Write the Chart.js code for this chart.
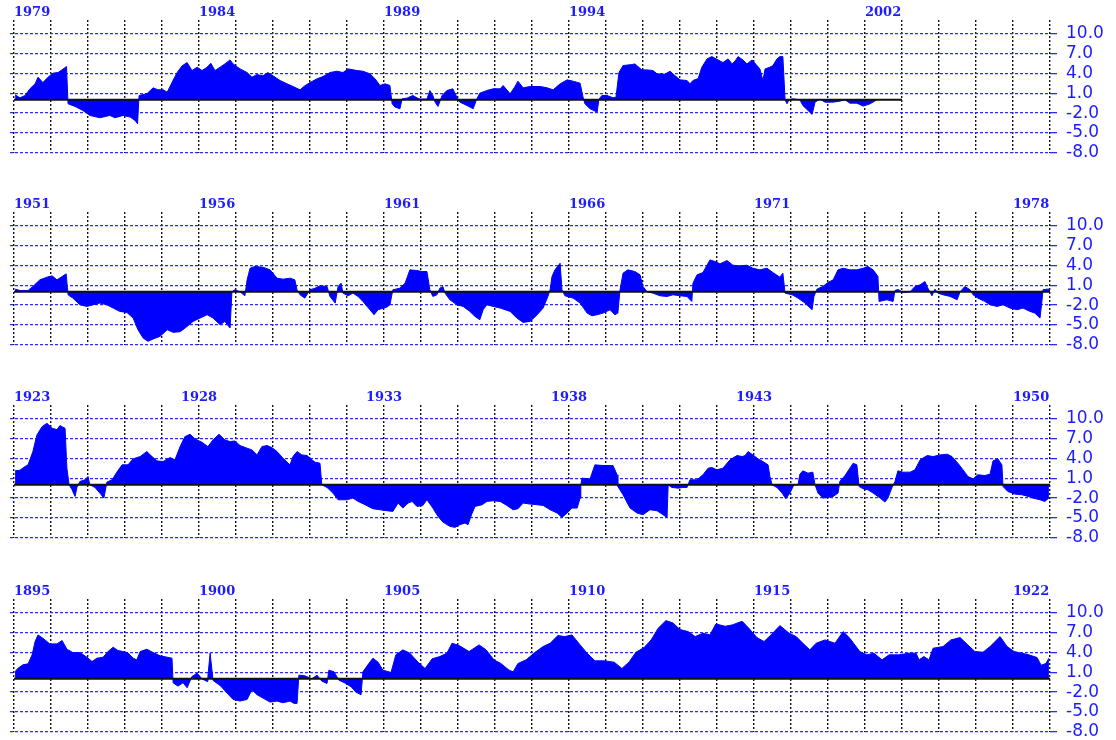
<!DOCTYPE html>
<html>
<head>
<meta charset="utf-8">
<script src="https://cdn.jsdelivr.net/npm/chart.js@4.4.1/dist/chart.umd.min.js"></script>
<style>
  body { margin: 0; background: #fff; width: 1116px; height: 740px; position: relative; overflow: hidden; }
  canvas { position: absolute; left: 0; }
</style>
</head>
<body>
<canvas id="p0" width="1116" height="159" style="top:0px"></canvas>
<canvas id="p1" width="1116" height="159" style="top:192px"></canvas>
<canvas id="p2" width="1116" height="159" style="top:385px"></canvas>
<canvas id="p3" width="1116" height="159" style="top:579px"></canvas>
<script>
// each panel covers 28 years; x values are years since the panel's first year
const panelStarts = [1979, 1951, 1923, 1895];
const labelYearsLeft = [
  [1979, 1984, 1989, 1994, 2002],
  [1951, 1956, 1961, 1966, 1971, 1978],
  [1923, 1950],
  [1895, 1900, 1905, 1910, 1915, 1922]
];
const labelYearsCentered = [[], [], [1928, 1933, 1938, 1943], []];
const baselineEnds = [24, 28, 28, 28];
const yTickValues = [-8, -5, -2, 1, 4, 7, 10];

const series1979 = [[0.03,0.75],[0.16,0.3],[0.30,0.65],[0.43,1.65],[0.57,2.4],[0.65,3.4],[0.78,2.6],[0.92,3.4],[1.05,4.0],[1.19,4.1],[1.32,4.6],[1.42,5.0],[1.46,-0.6],[1.65,-1.0],[1.86,-1.6],[2.05,-2.35],[2.32,-2.7],[2.59,-2.35],[2.73,-2.7],[2.95,-2.35],[3.14,-2.6],[3.27,-3.1],[3.34,-3.6],[3.38,0.65],[3.59,0.9],[3.76,1.8],[3.89,1.5],[4.03,1.5],[4.14,1.15],[4.27,2.6],[4.41,4.1],[4.54,5.1],[4.68,5.6],[4.81,4.4],[4.95,4.9],[5.08,4.4],[5.22,4.9],[5.32,5.5],[5.43,4.4],[5.57,4.9],[5.70,5.4],[5.84,6.0],[5.92,5.4],[6.11,4.65],[6.30,4.1],[6.43,3.4],[6.57,3.8],[6.73,3.6],[6.86,4.1],[7.00,3.6],[7.19,2.9],[7.38,2.4],[7.54,2.0],[7.73,1.5],[7.86,2.1],[8.00,2.6],[8.19,3.15],[8.35,3.5],[8.54,4.1],[8.73,4.3],[8.89,4.1],[9.03,4.65],[9.27,4.4],[9.43,4.3],[9.62,3.9],[9.76,3.15],[9.89,2.15],[10.03,2.4],[10.16,2.15],[10.22,-0.6],[10.30,-1.1],[10.43,-1.35],[10.49,0.15],[10.62,0.25],[10.78,0.65],[10.89,0.3],[10.97,0.1],[11.16,0.1],[11.24,1.4],[11.32,0.65],[11.38,-0.35],[11.46,-1.0],[11.57,0.65],[11.70,1.4],[11.86,1.65],[11.97,0.4],[12.05,-0.35],[12.24,-0.85],[12.41,-1.35],[12.51,0.15],[12.59,1.0],[12.78,1.4],[12.95,1.65],[13.14,1.65],[13.22,2.15],[13.41,0.9],[13.54,2.0],[13.62,2.8],[13.76,1.8],[13.95,2.0],[14.22,2.0],[14.41,1.8],[14.57,1.5],[14.76,2.4],[14.95,3.0],[15.11,2.8],[15.30,2.5],[15.38,0.4],[15.43,-0.6],[15.57,-1.35],[15.76,-1.85],[15.81,0.1],[15.89,0.65],[16.03,0.65],[16.19,0.3],[16.27,0.4],[16.35,4.1],[16.46,5.15],[16.70,5.3],[16.78,5.4],[16.97,4.5],[17.11,4.5],[17.27,4.4],[17.38,3.9],[17.59,3.85],[17.73,4.3],[17.86,3.65],[18.00,3.0],[18.19,2.9],[18.27,2.4],[18.35,2.9],[18.49,3.2],[18.59,4.9],[18.73,6.15],[18.86,6.5],[19.03,6.0],[19.16,5.6],[19.30,6.15],[19.41,5.4],[19.49,5.85],[19.57,6.5],[19.70,6.0],[19.81,5.4],[19.95,6.0],[20.08,5.15],[20.16,4.65],[20.24,2.9],[20.30,4.65],[20.43,4.9],[20.51,5.15],[20.62,6.15],[20.70,6.5],[20.78,6.5],[20.84,0],[20.89,-0.6],[20.95,0],[21.05,0.15],[21.24,0],[21.32,-0.85],[21.46,-1.6],[21.57,-2.2],[21.65,-0.35],[21.78,0.1],[21.92,-0.35],[22.14,-0.35],[22.32,-0.2],[22.46,0],[22.59,-0.5],[22.78,-0.5],[22.95,-0.95],[23.14,-0.6],[23.32,0]];

const series1951 = [[0.03,0.4],[0.16,0.2],[0.38,0.2],[0.51,0.8],[0.70,1.8],[0.89,2.2],[1.03,2.4],[1.16,1.8],[1.30,2.3],[1.41,2.7],[1.46,-0.45],[1.59,-0.95],[1.78,-1.95],[1.97,-2.2],[2.14,-1.95],[2.32,-1.7],[2.51,-1.95],[2.68,-2.45],[2.86,-2.95],[3.05,-3.1],[3.22,-3.95],[3.35,-5.7],[3.49,-6.95],[3.62,-7.45],[3.76,-7.1],[3.95,-6.7],[4.14,-5.7],[4.30,-6.1],[4.49,-6.0],[4.68,-5.2],[4.84,-4.45],[5.03,-3.95],[5.22,-3.45],[5.38,-3.95],[5.57,-4.95],[5.70,-4.45],[5.84,-5.45],[5.89,0],[5.97,0.3],[6.11,0],[6.24,-0.6],[6.30,1.8],[6.38,3.55],[6.51,3.8],[6.73,3.7],[6.92,3.3],[7.11,2.05],[7.27,1.9],[7.46,2.05],[7.59,1.8],[7.65,0.3],[7.73,-0.45],[7.86,-0.95],[8.00,0.3],[8.14,0.55],[8.27,0.9],[8.46,0.8],[8.54,-0.7],[8.68,-1.7],[8.76,0.8],[8.84,1.3],[8.89,-0.2],[9.03,-0.6],[9.16,-0.2],[9.30,-0.7],[9.43,-1.45],[9.62,-2.7],[9.73,-3.45],[9.84,-2.7],[10.08,-2.3],[10.16,-1.95],[10.24,0.3],[10.43,0.55],[10.57,1.3],[10.70,3.3],[10.89,3.2],[11.03,3.05],[11.16,3.05],[11.24,0.3],[11.32,-0.7],[11.43,-0.45],[11.51,0.55],[11.59,0.8],[11.65,-0.2],[11.78,-1.2],[11.97,-1.95],[12.14,-2.2],[12.32,-2.95],[12.46,-3.7],[12.59,-4.2],[12.68,-2.7],[12.78,-1.95],[12.95,-2.2],[13.14,-2.45],[13.41,-2.95],[13.59,-3.95],[13.76,-4.6],[13.95,-4.45],[14.14,-3.45],[14.30,-2.45],[14.43,-0.7],[14.49,0.3],[14.54,2.3],[14.62,3.3],[14.76,4.3],[14.81,0.3],[14.89,-0.6],[15.11,-0.95],[15.30,-1.7],[15.49,-3.2],[15.62,-3.6],[15.76,-3.45],[15.92,-3.2],[16.11,-2.7],[16.24,-3.45],[16.32,-3.2],[16.38,0.3],[16.46,2.8],[16.59,3.3],[16.78,3.05],[16.92,2.55],[17.00,0.8],[17.11,0],[17.27,-0.2],[17.46,-0.6],[17.65,-0.7],[17.81,-0.45],[18.00,-0.6],[18.19,-0.7],[18.32,-1.45],[18.35,1.3],[18.46,2.55],[18.62,2.9],[18.81,4.8],[18.95,4.55],[19.08,4.2],[19.27,4.7],[19.43,4.0],[19.62,3.9],[19.81,4.0],[19.97,3.55],[20.16,3.3],[20.35,3.55],[20.51,2.9],[20.70,2.2],[20.78,2.8],[20.84,-0.2],[21.03,-0.45],[21.19,-0.95],[21.38,-1.7],[21.57,-2.7],[21.62,-0.7],[21.70,0.4],[21.86,0.8],[22.00,1.4],[22.14,1.8],[22.27,3.3],[22.41,3.55],[22.59,3.3],[22.78,3.3],[22.95,3.55],[23.08,3.8],[23.22,3.3],[23.35,2.3],[23.38,-1.45],[23.59,-1.2],[23.76,-1.45],[23.81,0.2],[23.89,0.35],[24.03,-0.1],[24.22,0],[24.35,0.8],[24.49,1.05],[24.62,1.55],[24.70,0.55],[24.81,-0.6],[24.89,0.4],[24.97,-0.2],[25.11,-0.45],[25.30,-0.7],[25.49,-1.2],[25.57,0],[25.70,0.8],[25.84,0.3],[25.92,-0.45],[26.05,-0.95],[26.24,-1.45],[26.38,-1.95],[26.57,-2.2],[26.73,-1.95],[26.92,-2.45],[27.11,-2.7],[27.27,-2.45],[27.46,-2.95],[27.59,-3.2],[27.73,-3.95],[27.78,-1.5],[27.81,0.3],[27.92,0.4],[28.00,0.4]];

const series1923 = [[0.03,2.1],[0.16,2.2],[0.30,2.75],[0.38,3.0],[0.51,5.0],[0.62,7.5],[0.76,8.75],[0.89,9.25],[1.03,8.5],[1.16,8.3],[1.24,8.9],[1.38,8.5],[1.43,2.5],[1.49,0],[1.57,-0.75],[1.65,-1.75],[1.70,-0.4],[1.78,0.5],[1.92,0.75],[2.00,1.25],[2.05,0],[2.19,-0.4],[2.32,-1.25],[2.43,-2.0],[2.51,0.4],[2.65,0.75],[2.78,1.9],[2.92,3.0],[3.08,3.0],[3.22,3.9],[3.41,4.25],[3.59,5.0],[3.73,4.25],[3.86,3.6],[4.03,3.5],[4.22,4.1],[4.35,3.75],[4.49,5.75],[4.62,7.25],[4.76,7.6],[4.89,6.9],[5.08,6.4],[5.24,5.75],[5.38,6.75],[5.54,7.6],[5.70,6.75],[5.84,6.5],[5.97,6.6],[6.11,5.9],[6.30,5.5],[6.43,5.25],[6.57,4.5],[6.70,5.75],[6.84,5.9],[6.97,5.6],[7.11,5.0],[7.27,4.0],[7.46,3.0],[7.54,4.25],[7.65,5.0],[7.78,4.5],[7.92,4.4],[8.05,3.75],[8.14,3.4],[8.27,3.25],[8.32,0],[8.46,-0.4],[8.62,-1.25],[8.76,-2.25],[9.00,-2.25],[9.16,-2.0],[9.30,-2.5],[9.49,-3.0],[9.70,-3.6],[9.89,-3.75],[10.08,-3.9],[10.24,-4.0],[10.38,-2.75],[10.51,-3.5],[10.65,-2.75],[10.76,-2.5],[10.89,-3.25],[11.05,-3.1],[11.16,-2.25],[11.32,-3.5],[11.46,-4.75],[11.59,-5.6],[11.78,-6.25],[11.92,-6.4],[12.05,-6.0],[12.19,-5.75],[12.27,-6.0],[12.38,-4.3],[12.46,-3.25],[12.65,-3.0],[12.78,-2.5],[12.95,-2.4],[13.14,-2.5],[13.32,-3.1],[13.49,-3.75],[13.62,-3.6],[13.76,-2.75],[13.95,-2.9],[14.14,-3.0],[14.30,-3.1],[14.49,-3.75],[14.68,-4.25],[14.81,-4.9],[14.95,-4.25],[15.08,-3.5],[15.22,-3.5],[15.30,-2.0],[15.32,0],[15.35,1.0],[15.57,0.9],[15.70,3.0],[15.92,2.9],[16.19,2.9],[16.30,1.5],[16.32,-0.25],[16.46,-1.5],[16.65,-3.5],[16.84,-4.25],[17.00,-4.5],[17.19,-3.75],[17.38,-3.9],[17.54,-4.5],[17.65,-4.9],[17.68,0],[17.78,-0.4],[17.95,-0.5],[18.08,-0.4],[18.19,-0.4],[18.27,0.75],[18.46,0.75],[18.62,1.5],[18.76,2.5],[18.86,2.6],[19.00,2.25],[19.16,2.5],[19.35,3.75],[19.54,4.4],[19.68,4.25],[19.76,4.4],[19.84,5.0],[19.97,4.5],[20.11,3.9],[20.24,3.5],[20.38,3.0],[20.43,1.25],[20.49,0],[20.62,-0.4],[20.76,-1.25],[20.86,-2.1],[20.97,-1.25],[21.08,0],[21.19,0],[21.24,1.6],[21.32,2.1],[21.46,1.75],[21.59,1.9],[21.65,0],[21.73,-1.25],[21.86,-2.0],[22.00,-1.9],[22.14,-1.75],[22.27,-1.25],[22.32,0.5],[22.46,1.4],[22.59,2.5],[22.68,3.25],[22.78,3.0],[22.84,-0.25],[22.95,-0.6],[23.08,-0.75],[23.22,-1.25],[23.41,-2.0],[23.54,-2.6],[23.62,-2.0],[23.73,-0.4],[23.81,0.5],[23.89,2.1],[24.03,1.9],[24.22,1.9],[24.35,2.25],[24.49,3.75],[24.68,4.4],[24.84,4.25],[25.03,4.5],[25.22,4.6],[25.35,4.25],[25.51,3.25],[25.65,2.25],[25.78,1.25],[25.92,0.9],[26.05,1.5],[26.24,1.4],[26.38,1.6],[26.46,3.6],[26.59,3.9],[26.70,3.0],[26.73,-0.25],[26.86,-1.0],[27.05,-1.4],[27.24,-1.5],[27.41,-1.75],[27.54,-2.0],[27.73,-2.25],[27.86,-2.5],[27.97,-2.0]];

const series1895 = [[0.03,1.1],[0.11,1.6],[0.24,2.1],[0.38,2.25],[0.49,3.6],[0.57,5.6],[0.65,6.6],[0.78,6.1],[0.97,5.25],[1.16,5.25],[1.30,5.75],[1.43,4.45],[1.59,3.95],[1.78,3.95],[1.97,3.25],[2.11,2.6],[2.24,3.1],[2.41,3.25],[2.54,4.1],[2.68,4.75],[2.81,4.25],[2.95,4.1],[3.08,3.9],[3.22,3.1],[3.32,2.85],[3.41,4.1],[3.59,4.45],[3.76,3.95],[3.95,3.45],[4.14,3.25],[4.27,3.1],[4.30,-0.6],[4.43,-1.1],[4.57,-0.6],[4.68,-1.35],[4.81,0.35],[4.95,0.85],[5.08,0],[5.22,-0.4],[5.24,0.35],[5.30,3.85],[5.35,1.35],[5.38,-0.25],[5.57,-1.0],[5.76,-2.15],[5.92,-3.1],[6.11,-3.35],[6.30,-3.1],[6.43,-1.65],[6.57,-2.4],[6.73,-2.9],[6.92,-3.5],[7.11,-3.35],[7.27,-3.6],[7.46,-3.35],[7.57,-3.7],[7.65,-3.7],[7.70,0.55],[7.86,0.45],[8.05,0],[8.19,0.55],[8.32,-0.35],[8.46,-0.7],[8.51,1.3],[8.65,1.05],[8.78,-0.2],[8.97,-0.7],[9.11,-1.2],[9.24,-2.0],[9.38,-2.4],[9.43,1.05],[9.59,2.3],[9.70,3.1],[9.84,2.5],[9.97,1.3],[10.19,0.95],[10.32,3.6],[10.51,4.35],[10.70,3.85],[10.92,2.5],[11.11,1.55],[11.30,3.0],[11.51,3.35],[11.70,3.85],[11.84,5.35],[12.03,5.0],[12.30,4.1],[12.57,5.1],[12.76,4.35],[12.97,2.85],[13.16,2.3],[13.38,1.3],[13.49,1.05],[13.62,2.3],[13.84,2.85],[14.11,4.1],[14.30,4.85],[14.49,5.35],[14.70,6.5],[14.89,6.35],[15.08,6.6],[15.30,5.1],[15.49,3.85],[15.70,2.7],[15.95,2.7],[16.22,2.5],[16.43,1.55],[16.62,2.5],[16.81,4.0],[17.03,4.7],[17.22,5.85],[17.41,7.6],[17.62,8.75],[17.81,8.4],[18.00,7.4],[18.22,7.1],[18.41,6.35],[18.62,6.85],[18.81,6.6],[18.97,8.25],[19.22,7.9],[19.41,8.1],[19.68,8.65],[19.86,7.6],[20.08,6.2],[20.27,5.6],[20.46,6.6],[20.70,8.0],[20.95,6.85],[21.14,6.35],[21.32,5.35],[21.51,4.35],[21.68,5.35],[21.92,5.85],[22.19,5.35],[22.41,7.1],[22.59,6.1],[22.86,4.1],[23.05,3.6],[23.24,3.85],[23.46,2.85],[23.65,3.6],[23.92,3.6],[24.19,3.85],[24.38,3.85],[24.46,2.85],[24.59,3.35],[24.73,2.85],[24.84,4.6],[25.11,4.85],[25.32,5.85],[25.57,6.2],[25.78,5.1],[25.97,4.1],[26.19,4.0],[26.38,4.85],[26.65,6.35],[26.84,4.85],[27.03,4.1],[27.24,3.85],[27.43,3.6],[27.65,3.2],[27.76,2.05],[27.89,2.3],[27.97,3.1]];

const panelSeries = [series1979, series1951, series1923, series1895];

const BLUE = '#0000ff';
const LABEL_BLUE = '#1c1cff';
const yearTicks = [];
for (let k = 0; k <= 28; k++) yearTicks.push(k);

// keep Chart.js from adding room for overhanging tick labels
function noPadding(s) {
  s.paddingTop = 0; s.paddingBottom = 0; s.paddingLeft = 0; s.paddingRight = 0;
}

function makePanel(i) {
  const start = panelStarts[i];
  const yearScale = {
    type: 'linear',
    position: 'top',
    min: -0.108,
    max: 28,
    afterBuildTicks: s => { s.ticks = yearTicks.map(v => ({ value: v })); },
    border: { display: false },
    ticks: {
      autoSkip: false, maxRotation: 0, minRotation: 0, padding: 0,
      color: LABEL_BLUE,
      font: { family: 'DejaVu Serif', weight: 'bold', size: 13 }
    }
  };

  new Chart(document.getElementById('p' + i), {
    type: 'line',
    data: {
      datasets: [
        {
          // zero line
          data: [{ x: 0, y: 0 }, { x: baselineEnds[i], y: 0 }],
          xAxisID: 'x', yAxisID: 'y',
          borderColor: '#111', borderWidth: 2, fill: false, pointRadius: 0
        },
        {
          data: panelSeries[i].map(p => ({ x: p[0], y: p[1] })),
          xAxisID: 'x', yAxisID: 'y',
          borderColor: BLUE, borderWidth: 1, backgroundColor: BLUE,
          fill: 'origin', pointRadius: 0, tension: 0
        }
      ]
    },
    options: {
      responsive: false,
      animation: false,
      events: [],
      layout: { padding: { left: 10, right: 0, top: 0, bottom: 6 } },
      plugins: { legend: { display: false }, tooltip: { enabled: false } },
      scales: {
        x: {
          ...yearScale,
          weight: 1,
          afterFit: s => { s.height = 20; noPadding(s); },
          grid: { color: '#111', lineWidth: 1.4, drawTicks: false },
          border: { display: false, dash: [2, 2] },
          ticks: {
            ...yearScale.ticks,
            align: 'start',
            callback: v => labelYearsLeft[i].includes(start + v) ? String(start + v) : ''
          }
        },
        // second, zero-height axis for the labels centred on their year line;
        // mirror keeps its labels from being clipped to the empty box
        xc: {
          ...yearScale,
          weight: 0,
          afterFit: s => { s.height = 0; noPadding(s); },
          grid: { display: false, drawTicks: false },
          ticks: {
            ...yearScale.ticks,
            mirror: true,
            padding: -15.6,
            align: 'center',
            callback: v => labelYearsCentered[i].includes(start + v) ? String(start + v) : ''
          }
        },
        y: {
          type: 'linear',
          position: 'right',
          min: -8,
          max: 12,
          afterBuildTicks: s => { s.ticks = yTickValues.map(v => ({ value: v })); },
          afterFit: s => { s.width = 66; noPadding(s); },
          grid: { color: '#2a2aff', lineWidth: 1.3, tickLength: 7, tickColor: '#2a2aff', tickWidth: 1.3, tickBorderDash: [] },
          border: { display: false, dash: [3, 2] },
          ticks: {
            autoSkip: false,
            padding: 9,
            color: LABEL_BLUE,
            font: { family: 'DejaVu Sans', size: 17 },
            callback: v => v.toFixed(1)
          }
        }
      }
    }
  });
}

for (let i = 0; i < 4; i++) makePanel(i);
</script>
</body>
</html>
